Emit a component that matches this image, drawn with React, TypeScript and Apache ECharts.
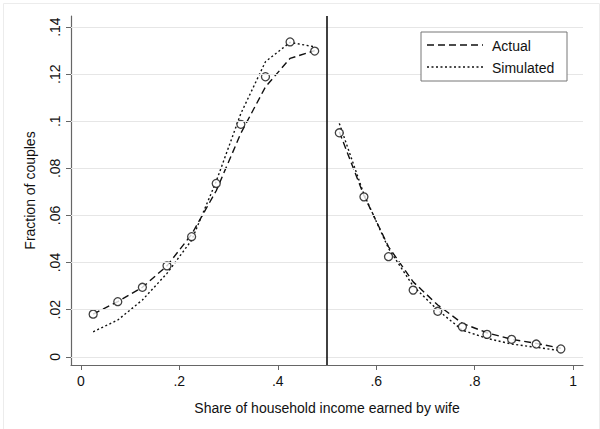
import React, { useEffect, useRef } from "react";
import * as echarts from "echarts";

const binCenters = [0.025, 0.075, 0.125, 0.175, 0.225, 0.275, 0.325, 0.375, 0.425, 0.475,
  0.525, 0.575, 0.625, 0.675, 0.725, 0.775, 0.825, 0.875, 0.925, 0.975];
const observed = [0.0181, 0.0234, 0.0295, 0.0386, 0.051, 0.0736, 0.0987, 0.1189, 0.1337, 0.1298,
  0.0951, 0.0679, 0.0425, 0.0283, 0.0193, 0.0127, 0.0095, 0.0074, 0.0054, 0.0033];
const actual = [0.0181, 0.0234, 0.0295, 0.0386, 0.052, 0.0705, 0.0949, 0.1146, 0.1267, 0.130,
  0.0955, 0.0685, 0.0467, 0.0318, 0.022, 0.0142, 0.0102, 0.0074, 0.0057, 0.0036];
const simulated = [0.0106, 0.0156, 0.0241, 0.0354, 0.0495, 0.0745, 0.1033, 0.1253, 0.1335, 0.1316,
  0.0991, 0.0690, 0.0460, 0.0300, 0.0198, 0.0113, 0.0078, 0.0054, 0.0040, 0.0026];
const yTicks = [0, 0.02, 0.04, 0.06, 0.08, 0.1, 0.12, 0.14];
const xTicks = [0, 0.2, 0.4, 0.6, 0.8, 1];
const threshold = 0.5;

const fmt = (v: number) => {
  if (v === 0) return "0";
  if (v === 1) return "1";
  return String(Number(v.toFixed(2))).replace(/^0/, "");
};

function withGap(ys: number[]) {
  const out: any[] = [];
  binCenters.forEach((x, i) => {
    if (i > 0 && binCenters[i - 1] < threshold && x > threshold) out.push([threshold, "-"]);
    out.push([x, ys[i]]);
  });
  return out;
}

const FONT = "'Liberation Sans', Arial, sans-serif";

export default function App() {
  const ref = useRef<HTMLDivElement>(null);
  useEffect(() => {
    const chart = echarts.init(ref.current!, null, { renderer: "svg" });
    chart.setOption({
      animation: false,
      backgroundColor: "#ffffff",
      grid: { left: 71, top: 16, right: 17, bottom: 64, containLabel: false },
      xAxis: {
        type: "value",
        min: -0.02,
        max: 1.02,
        interval: 0.2,
        name: "Share of household income earned by wife",
        nameLocation: "middle",
        nameGap: 36,
        nameTextStyle: { fontFamily: FONT, fontSize: 14, color: "#111" },
        axisLine: { show: true, onZero: false, lineStyle: { color: "#666", width: 1.2 } },
        axisTick: { show: true, length: 5, lineStyle: { color: "#666" }, customValues: xTicks },
        axisLabel: { fontFamily: FONT, fontSize: 14, color: "#111", margin: 9, customValues: xTicks, formatter: fmt },
        splitLine: { show: false },
      },
      yAxis: {
        type: "value",
        min: -0.0035,
        max: 0.1447,
        name: "Fraction of couples",
        nameLocation: "middle",
        nameGap: 34,
        nameTextStyle: { fontFamily: FONT, fontSize: 14, color: "#111" },
        axisLine: { show: true, onZero: false, lineStyle: { color: "#666", width: 1.2 } },
        axisTick: { show: true, length: 5, lineStyle: { color: "#666" }, customValues: yTicks },
        axisLabel: { fontFamily: FONT, fontSize: 14, color: "#111", rotate: 90, margin: 9, customValues: yTicks, formatter: fmt },
        splitLine: { show: false },
      },
      series: [
        {
          name: "grid",
          type: "line",
          data: [],
          silent: true,
          markLine: {
            silent: true,
            symbol: "none",
            label: { show: false },
            lineStyle: { color: "#e6e6e6", width: 1, type: "solid" },
            data: yTicks.map((v) => ({ yAxis: v })),
          },
        },
        {
          name: "Actual",
          type: "line",
          data: withGap(actual),
          showSymbol: false,
          connectNulls: false,
          lineStyle: { color: "#111", width: 1.4, type: [7, 4] },
          z: 3,
        },
        {
          name: "Simulated",
          type: "line",
          data: withGap(simulated),
          showSymbol: false,
          connectNulls: false,
          lineStyle: { color: "#111", width: 1.4, type: [2, 2.5] },
          z: 3,
          markLine: {
            silent: true,
            symbol: "none",
            label: { show: false },
            lineStyle: { color: "#111", width: 1.6, type: "solid" },
            data: [{ xAxis: threshold }],
          },
        },
        {
          name: "Observed",
          type: "scatter",
          data: binCenters.map((x, i) => [x, observed[i]]),
          symbol: "circle",
          symbolSize: 8,
          itemStyle: { color: "#ffffff", borderColor: "#111", borderWidth: 1.3 },
          z: 4,
        },
      ],
      graphic: [
        { type: "rect", left: 1, top: 1, shape: { width: 596, height: 426 }, style: { fill: "none", stroke: "#ececec", lineWidth: 1 }, silent: true },
        { type: "rect", shape: { x: 421, y: 32, width: 146, height: 49 }, style: { fill: "#fff", stroke: "#777", lineWidth: 1 }, z: 10 },
        { type: "line", shape: { x1: 427, y1: 45, x2: 483, y2: 45 }, style: { stroke: "#111", lineWidth: 1.4, lineDash: [7, 4] }, z: 11 },
        { type: "line", shape: { x1: 427, y1: 67, x2: 483, y2: 67 }, style: { stroke: "#111", lineWidth: 1.4, lineDash: [2, 2.5] }, z: 11 },
        { type: "text", x: 492, y: 46, style: { text: "Actual", font: `14px ${FONT}`, fill: "#111", verticalAlign: "middle" }, z: 11 },
        { type: "text", x: 492, y: 68, style: { text: "Simulated", font: `14px ${FONT}`, fill: "#111", verticalAlign: "middle" }, z: 11 },
      ],
    });
    return () => chart.dispose();
  }, []);
  return <div ref={ref} style={{ position: "fixed", left: 0, top: 0, width: 600, height: 429 }} />;
}
